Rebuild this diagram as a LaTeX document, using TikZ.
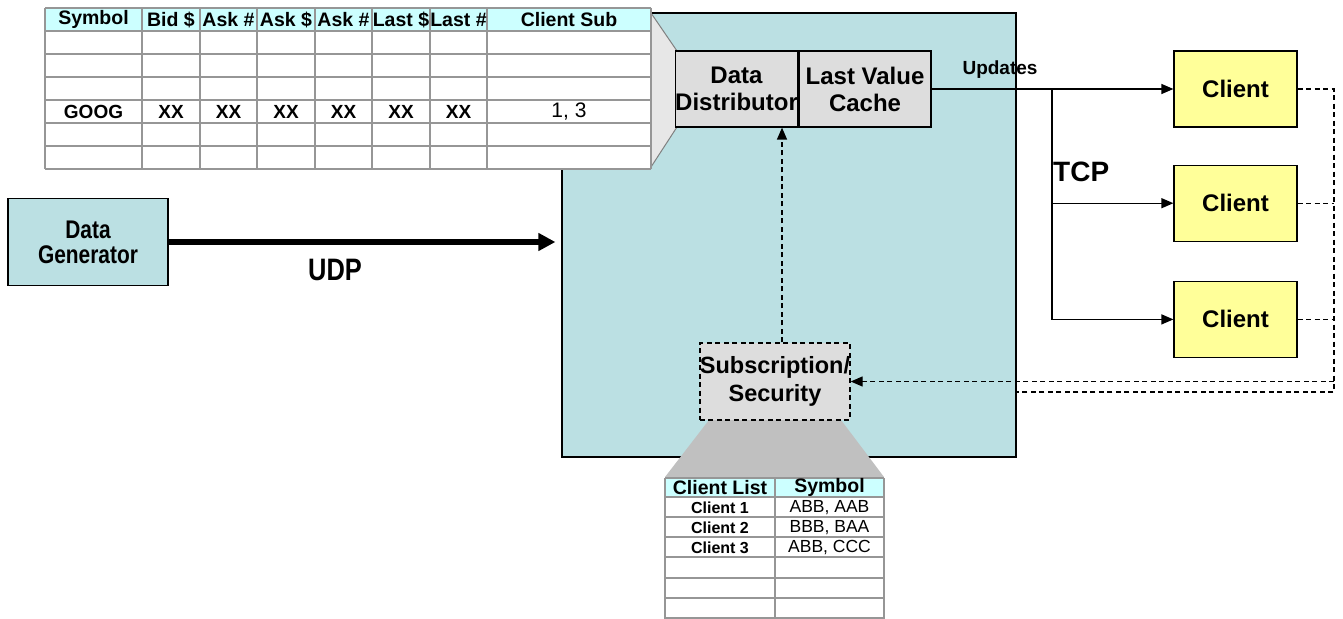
\documentclass[tikz,border=0pt]{standalone}
\usepackage{fontspec}
\setmainfont{Liberation Sans}
\newfontfamily\narrowsf{Liberation Sans}[FakeStretch=0.82]
\usepackage{tikz}
\usetikzlibrary{positioning, arrows.meta}

\definecolor{serverteal}{RGB}{187,224,227}
\definecolor{boxgray}{RGB}{221,221,221}
\definecolor{calloutlight}{RGB}{231,231,231}
\definecolor{calloutdark}{RGB}{192,192,192}
\definecolor{headcyan}{RGB}{204,255,255}
\definecolor{gridgray}{RGB}{150,150,150}
\definecolor{clientyellow}{RGB}{255,255,153}

\tikzstyle{block} = [rectangle, draw, line width=1.2pt, inner sep=0pt,
                 align=center, font=\bfseries\fontsize{24}{27}\selectfont]
\tikzstyle{client} = [block, fill=clientyellow, minimum width=123pt,
                 minimum height=76pt]
\tikzstyle{link} = [line width=1.3pt, -{Triangle[length=12pt,width=10pt]}]
\tikzset{
	feedback/.style={line width=1.3pt, dash pattern=on 5pt off 3.5pt},
	grid line/.style={draw=gridgray, line width=2.5pt},
	headcell/.style={inner sep=0pt, font=\bfseries\fontsize{19.5}{20}\selectfont},
	bodycell/.style={inner sep=0pt, font=\bfseries\fontsize{19}{20}\selectfont},
	plaincell/.style={inner sep=0pt, font=\fontsize{17.5}{18}\selectfont},
	smallcell/.style={inner sep=0pt, font=\bfseries\fontsize{16}{17}\selectfont},
}

\begin{document}
\begin{tikzpicture}[x=1pt, y=-1pt]
\useasboundingbox (0,0) rectangle (1343,618);

% server box
\node [draw, line width=1.2pt, fill=serverteal, inner sep=0pt,
       minimum width=454pt, minimum height=444pt] (server) at (789,235) {};

% zoom out of the distributor
\draw [draw=gray, fill=calloutlight, line width=1pt]
	(651,13) -- (677,51) -- (677,127) -- (651,167) -- cycle;

% symbol table
\fill [white] (45,8) rectangle (651,169);
\fill [headcyan] (45,8) rectangle (651,31);
\foreach \x in {45,142,200,257,315,372,430,487,651}
	\draw [grid line] (\x,8) -- (\x,169);
\foreach \y in {8,31,54,77,100,123,146,169}
	\draw [grid line] (45,\y) -- (651,\y);
\foreach \x/\label [count=\i] in {93.5/Symbol, 171/Bid \$, 228.5/Ask \#,
		286/Ask \$, 343.5/Ask \#, 401/Last \$, 458.5/Last \#, 569/Client Sub}
	\node [headcell] (head\i) at (\x,19.5) {\label};
\foreach \x/\val [count=\i] in {93.5/GOOG, 171/XX, 228.5/XX, 286/XX,
		343.5/XX, 401/XX, 458.5/XX}
	\node [bodycell] (goog\i) at (\x,111.5) {\val};
\node [inner sep=0pt, font=\fontsize{21}{22}\selectfont] (subs) at (569,111.5) {1, 3};

% zoom out of the subscriptions
\fill [calloutdark] (709,420) -- (841,420) -- (884,477) -- (665,477) -- cycle;

% client table
\fill [white] (665,478) rectangle (884,640);
\fill [headcyan] (665,478) rectangle (884,497);
\foreach \x in {665,775,884}
	\draw [grid line] (\x,478) -- (\x,640);
\foreach \y in {478,497,517,537,557,578,598,618}
	\draw [grid line] (665,\y) -- (884,\y);
\node [headcell] (listhead) at (720,487.5) {Client List};
\node [headcell] (symhead) at (829.5,487.5) {Symbol};
\foreach \y/\who/\syms [count=\i] in {508/Client 1/{ABB, AAB},
		528/Client 2/{BBB, BAA}, 548/Client 3/{ABB, CCC}}
{
	\node [smallcell] (who\i) at (720,\y) {\who};
	\node [plaincell] (syms\i) at (829.5,\y) {\syms};
}

% inside the server
\node [block, fill=boxgray, minimum width=119pt, minimum height=76pt]
	(dist) at (736.5,89) {Data\\Distributor};
\node [block, fill=boxgray, minimum width=132pt, minimum height=76pt]
	(cache) [right=0pt of dist] {Last Value\\Cache};
\node [block, fill=boxgray, dashed, dash pattern=on 5pt off 3.5pt,
       minimum width=132pt, minimum height=77pt,
       font=\bfseries\fontsize{23.5}{28}\selectfont]
	(sub) at (775,381.5) {Subscription/\\Security};

\node [block, fill=serverteal, minimum width=160pt, minimum height=87pt,
       font=\narrowsf\bfseries\fontsize{25.5}{25}\selectfont]
	(gen) at (88,242) {Data\\Generator};

\node [client] (cl1) at (1235.5,89) {Client};
\node [client] (cl2) [below=37pt of cl1] {Client};
\node [client] (cl3) [below=39pt of cl2] {Client};

% data feed
\draw [line width=5.5pt, shorten >=6pt, -{Triangle[length=17pt,width=17pt]}]
	(gen.east |- 0,242) -- (server.west |- 0,242);
\node [inner sep=0pt, font=\narrowsf\bfseries\fontsize{31}{32}\selectfont]
	(udp) at (335,270) {UDP};

% updates out to the clients
\coordinate (tap) at (1052,89);
\draw [link] (cache.east) -- (cl1.west);
\draw [link] (tap) |- (cl2.west);
\draw [link] (tap) |- (cl3.west);
\node [inner sep=0pt, font=\bfseries\fontsize{19}{20}\selectfont]
	(updates) at (1000,70) {Updates};
\node [inner sep=0pt, anchor=west, font=\bfseries\fontsize{28}{30}\selectfont]
	(tcp) at (1053,172) {TCP};

% subscriptions back from the clients
\coordinate (corner) at (1334,392);
\draw [feedback] (cl1.east) -| (corner) -- (corner -| server.east) -- ++(0,-6);
\draw [feedback] (cl2.east) -- (cl2.east -| corner);
\draw [feedback] (cl3.east) -- (cl3.east -| corner);
\draw [feedback, -{Triangle[length=12pt,width=10pt]}]
	(sub.east -| corner) -- (sub.east);
\draw [feedback, -{Triangle[length=12pt,width=10pt]}]
	([xshift=7pt]sub.north) -- ([xshift=7pt]sub.north |- dist.south);

\end{tikzpicture}
\end{document}
